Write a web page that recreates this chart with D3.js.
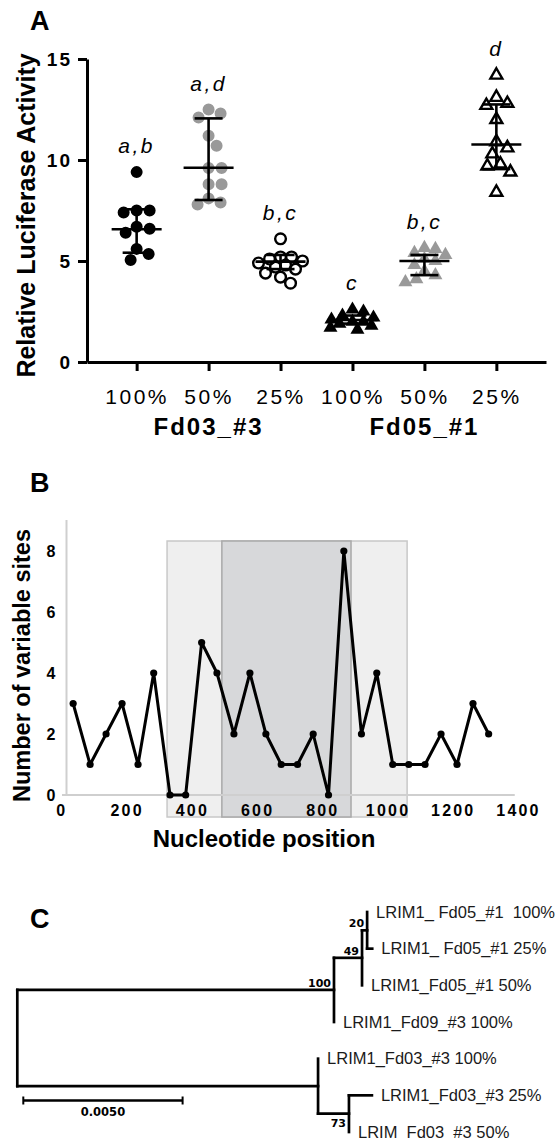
<!DOCTYPE html>
<html>
<head>
<meta charset="utf-8">
<script src="https://cdn.jsdelivr.net/npm/d3@7"></script>
<style>
  body { margin: 0; background: #fff; }
  svg { display: block; }
</style>
</head>
<body>
<script>
// ---------- panel A : luciferase activity ----------
const conditions = ['100%', '50%', '25%', '100%', '50%', '25%']
const lineNames = ['Fd03_#3', 'Fd05_#1']
const sigLetters = ['a,b', 'a,d', 'b,c', 'c', 'b,c', 'd']
const fd03_100 = [9.4, 7.5, 7.5, 7.4, 6.7, 6.6, 6.4, 5.6, 5.35, 5.05]
const fd03_50 = [12.5, 12.3, 12.1, 11.2, 10.7, 9.6, 9.6, 8.8, 8.8, 8.1, 7.9, 7.8]
const fd03_25 = [6.1, 5.2, 5.2, 5.1, 5.0, 4.9, 4.8, 4.7, 4.6, 4.4, 4.2, 3.9]
const fd05_100 = [2.6, 2.5, 2.3, 2.2, 2.1, 2.0, 2.0, 1.9, 1.8, 1.7, 1.6]
const fd05_50 = [5.65, 5.6, 5.4, 5.3, 5.1, 5.0, 4.8, 4.5, 4.3, 4.1, 3.95]
const fd05_25 = [14.2, 13.1, 12.8, 12.7, 12.0, 10.9, 10.6, 10.3, 9.8, 9.7, 9.4, 8.4]
const groupMeans = [6.57, 9.62, 4.97, 2.08, 5.0, 10.77]
const groupSdHigh = [7.56, 12.06, 5.3, 2.3, 5.3, 12.75]
const groupSdLow = [5.41, 8.02, 4.6, 1.9, 4.3, 9.55]
const activityTicks = [0, 5, 10, 15]

// ---------- panel B : variable sites along the gene ----------
const windowPos = [36, 88, 137, 186, 235, 283, 333, 381, 430, 477, 529, 578, 627, 674,
  724, 772, 819, 866, 920, 967, 1016, 1065, 1115, 1164, 1213, 1262, 1310]
const variableSites = [3, 1, 2, 3, 1, 4, 0, 0, 5, 4, 2, 4, 2, 1, 1, 2, 0, 8, 2, 4, 1, 1, 1, 2, 1, 3, 2]
const outerRegion = [324, 1060]
const innerRegion = [492, 888]
const posTicks = [0, 200, 400, 600, 800, 1000, 1200, 1400]
const siteTicks = [0, 2, 4, 6, 8]

// ---------- panel C : tree ----------
const treeIds = ['root', 'n100', 'n49', 'n20', 'a1', 'a2', 'a3', 'a4', 'nb', 'b1', 'n73', 'b2', 'b3']
const treeParents = ['', 'root', 'n100', 'n49', 'n20', 'n20', 'n49', 'n100', 'root', 'nb', 'nb', 'n73', 'n73']
const branchLengths = [0, 0.00994, 0.00088, 0.00016, 0, 0.00016, 0, 0, 0.00944, 0, 0.00097, 0.00072, 0]
const bootstrap = [null, 100, 49, 20, null, null, null, null, null, null, 73, null, null]
const leafNames = ['', '', '', '', 'LRIM1_ Fd05_#1  100%', 'LRIM1_ Fd05_#1 25%', 'LRIM1_Fd05_#1 50%',
  'LRIM1_Fd09_#3 100%', '', 'LRIM1_Fd03_#3 100%', '', 'LRIM1_Fd03_#3 25%', 'LRIM_Fd03_#3 50%']
const scaleBarLength = 0.005

const ARIAL = "'Liberation Sans', Arial, Helvetica, sans-serif"
const DEJAVU = "'DejaVu Sans', Verdana, sans-serif"

const svg = d3.select('body').append('svg')
  .attr('width', 559).attr('height', 1139)
  .style('font-family', ARIAL)

function panelLabel (txt, x, y) {
  svg.append('text').attr('x', x).attr('y', y)
    .attr('font-size', 27).attr('font-weight', 'bold').text(txt)
}

// ================= A =================
const groups = [fd03_100, fd03_50, fd03_25, fd05_100, fd05_50, fd05_25]
const xA = d3.scalePoint().domain(d3.range(6)).range([87, 546]).padding(0.69)
const yA = d3.scaleLinear().domain([0, 15]).range([362, 59])

panelLabel('A', 30, 30)
const gA = svg.append('g')

// prism-like spread of the points so that they do not sit on top of each other
function swarm (vals, minDist, maxSpread) {
  const placed = []
  vals.slice().sort((a, b) => b - a).forEach(v => {
    const y = yA(v)
    let best = 0, bestGap = -1
    for (let k = 0; k <= maxSpread; k++) {
      for (const dx of (k ? [k, -k] : [0])) {
        const gap = d3.min(placed, p => Math.hypot(p.dx - dx, p.y - y)) ?? Infinity
        if (gap >= minDist) { best = dx; bestGap = Infinity; break }
        if (gap > bestGap) { bestGap = gap; best = dx }
      }
      if (bestGap === Infinity) break
    }
    placed.push({ v, y, dx: best })
  })
  return placed
}

const markStyles = [
  { shape: d3.symbolCircle, fill: '#000', stroke: 'none', size: 113, gap: 12.5 },
  { shape: d3.symbolCircle, fill: '#999', stroke: 'none', size: 113, gap: 12.5 },
  { shape: d3.symbolCircle, fill: 'none', stroke: '#000', size: 90, gap: 11 },
  { shape: d3.symbolTriangle, fill: '#000', stroke: 'none', size: 85, gap: 11 },
  { shape: d3.symbolTriangle, fill: '#999', stroke: 'none', size: 85, gap: 11 },
  { shape: d3.symbolTriangle, fill: 'none', stroke: '#000', size: 62, gap: 12.5 }
]

groups.forEach((vals, i) => {
  const st = markStyles[i]
  const pts = swarm(vals, st.gap, 22)
  const sym = d3.symbol().type(st.shape).size(st.size)
  gA.append('g').selectAll('path').data(pts).join('path')
    .attr('d', sym)
    .attr('transform', d => `translate(${xA(i) + d.dx},${d.y})`)
    .attr('fill', st.fill).attr('stroke', st.stroke).attr('stroke-width', 2.4)

  // mean and SD
  const cx = xA(i)
  const eb = gA.append('g').attr('stroke', '#000').attr('stroke-width', 2.6)
  eb.append('line').attr('x1', cx).attr('x2', cx).attr('y1', yA(groupSdLow[i])).attr('y2', yA(groupSdHigh[i]))
  eb.append('line').attr('x1', cx - 14).attr('x2', cx + 14).attr('y1', yA(groupSdLow[i])).attr('y2', yA(groupSdLow[i]))
  eb.append('line').attr('x1', cx - 14).attr('x2', cx + 14).attr('y1', yA(groupSdHigh[i])).attr('y2', yA(groupSdHigh[i]))
  eb.append('line').attr('x1', cx - 25).attr('x2', cx + 25).attr('y1', yA(groupMeans[i])).attr('y2', yA(groupMeans[i]))

  // significance letters
  gA.append('text')
    .attr('x', cx).attr('y', yA(d3.max(vals)) - 19)
    .attr('text-anchor', 'middle').attr('font-size', 21).attr('font-style', 'italic')
    .attr('letter-spacing', 2.5)
    .text(sigLetters[i])
})

gA.append('g').attr('transform', 'translate(87,0)')
  .call(d3.axisLeft(yA).tickValues(activityTicks).tickSize(9).tickSizeOuter(0).tickPadding(6))
  .call(g => {
    g.attr('font-family', ARIAL)
    g.select('.domain').attr('stroke-width', 3)
    g.selectAll('.tick line').attr('stroke-width', 3)
    g.selectAll('.tick text').attr('font-size', 19).attr('font-weight', 'bold').attr('letter-spacing', 2).attr('fill', '#000')
  })

gA.append('g').attr('transform', 'translate(0,362)')
  .call(d3.axisBottom(xA).tickSize(9).tickSizeOuter(0).tickPadding(18).tickFormat(i => conditions[i]))
  .call(g => {
    g.attr('font-family', ARIAL)
    g.select('.domain').attr('stroke-width', 3)
    g.selectAll('.tick line').attr('stroke-width', 3)
    g.selectAll('.tick text').attr('font-size', 21).attr('letter-spacing', 2.5).attr('fill', '#000')
  })

lineNames.forEach((name, j) => {
  gA.append('text').attr('x', xA(j * 3 + 1)).attr('y', 435)
    .attr('text-anchor', 'middle').attr('font-size', 24).attr('font-weight', 'bold')
    .attr('letter-spacing', 2)
    .text(name)
})

gA.append('text')
  .attr('transform', `translate(35,${(yA(0) + yA(15)) / 2 + 5}) rotate(-90)`)
  .attr('text-anchor', 'middle').attr('font-size', 25).attr('font-weight', 'bold')
  .text('Relative Luciferase Activity')

// ================= B =================
const xB = d3.scaleLinear().domain([0, 1400]).range([61.4, 518])
const yB = d3.scaleLinear().domain([0, 8]).range([795, 551])

panelLabel('B', 30, 492)
const gB = svg.append('g')

const boxTop = yB(8) - 10, boxBottom = yB(0) + 22
gB.append('rect')
  .attr('x', xB(outerRegion[0])).attr('width', xB(outerRegion[1]) - xB(outerRegion[0]))
  .attr('y', boxTop).attr('height', boxBottom - boxTop)
  .attr('fill', '#efefef').attr('stroke', '#c8c8c8').attr('stroke-width', 1.5)
gB.append('rect')
  .attr('x', xB(innerRegion[0])).attr('width', xB(innerRegion[1]) - xB(innerRegion[0]))
  .attr('y', boxTop).attr('height', boxBottom - boxTop)
  .attr('fill', '#d7d8da').attr('stroke', '#a9a9a9').attr('stroke-width', 1.5)

// axis lines (light grey, as in the original)
gB.append('line').attr('x1', 66.5).attr('x2', 66.5).attr('y1', 520).attr('y2', yB(0))
  .attr('stroke', '#cfcfcf').attr('stroke-width', 2)
gB.append('line').attr('x1', 62).attr('x2', xB(1390)).attr('y1', yB(0)).attr('y2', yB(0))
  .attr('stroke', '#cfcfcf').attr('stroke-width', 2)

gB.append('g').attr('transform', 'translate(58,0)')
  .call(d3.axisLeft(yB).tickValues(siteTicks).tickSize(0).tickPadding(0))
  .call(g => {
    g.select('.domain').remove()
    g.attr('font-family', ARIAL)
    g.selectAll('.tick text').attr('font-size', 16).attr('font-weight', 'bold').attr('fill', '#000')
      .attr('x', -7).attr('text-anchor', 'middle').attr('dy', '0.36em')
  })

gB.append('g').attr('transform', `translate(0,${yB(0)})`)
  .call(d3.axisBottom(xB).tickValues(posTicks).tickSize(0).tickPadding(10).tickFormat(d3.format('d')))
  .call(g => {
    g.select('.domain').remove()
    g.attr('font-family', ARIAL)
    g.selectAll('.tick text').attr('font-size', 16).attr('font-weight', 'bold').attr('fill', '#000')
      .attr('letter-spacing', 2.2)
  })

const siteLine = d3.line().x((d, i) => xB(windowPos[i])).y(d => yB(d))
gB.append('path').datum(variableSites)
  .attr('d', siteLine).attr('fill', 'none').attr('stroke', '#000')
  .attr('stroke-width', 3).attr('stroke-linejoin', 'round')
gB.append('g').selectAll('circle').data(variableSites).join('circle')
  .attr('cx', (d, i) => xB(windowPos[i])).attr('cy', d => yB(d)).attr('r', 3.6)

gB.append('text').attr('x', 264).attr('y', 847)
  .attr('text-anchor', 'middle').attr('font-size', 24).attr('font-weight', 'bold')
  .text('Nucleotide position')
gB.append('text')
  .attr('transform', `translate(30,${(yB(0) + 520) / 2 + 8}) rotate(-90)`)
  .attr('text-anchor', 'middle').attr('font-size', 23.5).attr('font-weight', 'bold')
  .text('Number of variable sites')

// ================= C =================
panelLabel('C', 30, 928)
const gC = svg.append('g')

const rows = treeIds.map((id, i) => ({
  id, parent: treeParents[i] || null, len: branchLengths[i], boot: bootstrap[i], name: leafNames[i]
}))
const root = d3.stratify().id(d => d.id).parentId(d => d.parent)(rows)
root.eachBefore(n => { n.dist = n.parent ? n.parent.dist + n.data.len : 0 })

const xC = d3.scaleLinear().domain([0, scaleBarLength]).range([17.3, 176.6])
const yC = d3.scalePoint().domain(root.leaves().map(d => d.id)).range([912, 1132])
root.eachAfter(n => {
  n.px = xC(n.dist)
  n.py = n.children ? (n.children[0].py + n.children[n.children.length - 1].py) / 2 : yC(n.id)
})

const treeLines = gC.append('g').attr('stroke', '#000').attr('stroke-width', 2.7).attr('stroke-linecap', 'square')
root.descendants().forEach(n => {
  if (n.parent && n.px > n.parent.px) {
    treeLines.append('line').attr('x1', n.parent.px).attr('x2', n.px).attr('y1', n.py).attr('y2', n.py)
  }
  if (n.children) {
    treeLines.append('line').attr('x1', n.px).attr('x2', n.px)
      .attr('y1', n.children[0].py).attr('y2', n.children[n.children.length - 1].py)
  }
})

gC.append('g').selectAll('text').data(root.leaves()).join('text')
  .attr('x', d => d.px + 9).attr('y', d => d.py + 5.5)
  .attr('font-size', 16.5).attr('fill', '#1a1a1a')
  .style('white-space', 'pre')
  .text(d => d.data.name)

gC.append('g').selectAll('text')
  .data(root.descendants().filter(d => d.data.boot != null))
  .join('text')
  .attr('x', d => d.px - 3)
  .attr('y', d => {
    const lower = d.parent && d.parent.children.indexOf(d) === d.parent.children.length - 1
    return lower ? d.py + 13 : d.py - 3
  })
  .attr('text-anchor', 'end').attr('font-family', DEJAVU).attr('font-weight', 'bold').attr('font-size', 11)
  .text(d => d.data.boot)

// scale bar
const barX0 = xC(0) + 6, barX1 = xC(scaleBarLength) + 6, barY = 1100.5
const bar = gC.append('g').attr('stroke', '#000')
bar.append('line').attr('x1', barX0).attr('x2', barX1).attr('y1', barY).attr('y2', barY).attr('stroke-width', 2.5)
bar.append('line').attr('x1', barX0).attr('x2', barX0).attr('y1', barY - 4).attr('y2', barY + 4).attr('stroke-width', 2)
bar.append('line').attr('x1', barX1).attr('x2', barX1).attr('y1', barY - 4).attr('y2', barY + 4).attr('stroke-width', 2)
gC.append('text').attr('x', (barX0 + barX1) / 2).attr('y', 1115.5)
  .attr('text-anchor', 'middle').attr('font-family', DEJAVU).attr('font-weight', 'bold').attr('font-size', 11.5)
  .text(scaleBarLength.toFixed(4))
</script>
</body>
</html>
